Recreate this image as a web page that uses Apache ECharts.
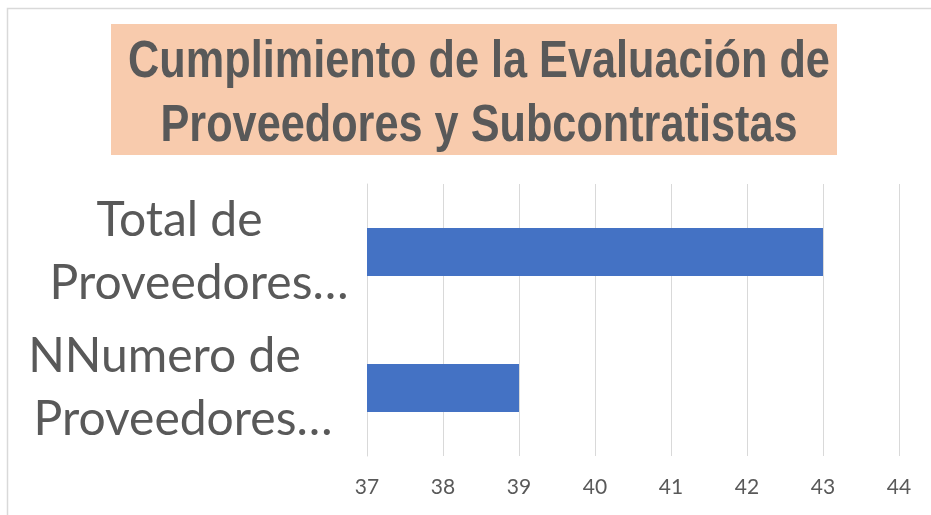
<!DOCTYPE html>
<html>
<head>
<meta charset="utf-8">
<script src="https://cdn.jsdelivr.net/npm/echarts@6/dist/echarts.min.js"></script>
<style>
html,body{margin:0;padding:0;background:#fff;}
#chart{width:931px;height:515px;}
</style>
</head>
<body>
<div id="chart"></div>
<script>
const titleText = 'Cumplimiento de la Evaluación de\nProveedores y Subcontratistas';
const categories = ['Total de\nProveedores…', 'NNumero de\nProveedores…'];
const values = [43, 39];
const xMin = 37, xMax = 44, xInterval = 1;

const chart = echarts.init(document.getElementById('chart'));
const txt = '#595959';
const labelFont = 'Lato, Carlito, Calibri, sans-serif';
const titleFont = '"Liberation Sans Narrow", "Arial Narrow", "Liberation Sans", Arial, sans-serif';

chart.setOption({
  animation: false,
  backgroundColor: '#fff',
  graphic: [
    { type: 'rect', z: -10, shape: { x: 7.5, y: 8.5, width: 940, height: 530 },
      style: { fill: 'none', stroke: '#D9D9D9', lineWidth: 1.5 } },
    { type: 'rect', z: -5, shape: { x: 111, y: 24, width: 726, height: 131 },
      style: { fill: '#F8CBAD' } },
    { type: 'text', z: 10, x: 479, y: 95, scaleX: 0.865, scaleY: 1.02,
      style: {
        text: titleText,
        x: 0, y: 0,
        textAlign: 'center', align: 'center',
        textVerticalAlign: 'middle', verticalAlign: 'middle',
        font: 'bold 50px ' + titleFont,
        fontFamily: titleFont, fontWeight: 'bold', fontSize: 50,
        lineHeight: 62,
        fill: txt
      } }
  ],
  grid: { left: 367, right: 32, top: 184, bottom: 59, containLabel: false },
  xAxis: {
    type: 'value',
    min: xMin, max: xMax, interval: xInterval,
    axisLine: { show: false },
    axisTick: { show: false },
    splitLine: { show: true, lineStyle: { color: '#D9D9D9', width: 1 } },
    axisLabel: { color: txt, fontFamily: labelFont, fontSize: 21, margin: 21 }
  },
  yAxis: {
    type: 'category',
    inverse: true,
    data: categories,
    axisLine: { show: true, lineStyle: { color: '#D9D9D9', width: 1 } },
    axisTick: { show: false },
    axisLabel: {
      margin: 168,
      align: 'center',
      color: txt,
      fontFamily: labelFont,
      fontSize: 48,
      lineHeight: 63,
      formatter: function (value, index) {
        const parts = value.split('\n');
        if (index === 0) return '{a|' + parts[0] + '}\n{b|' + parts[1] + '}';
        return '{c|' + parts[0] + '}\n{d|' + parts[1] + '}';
      },
      rich: {
        a: { fontFamily: labelFont, fontSize: 48, lineHeight: 63, color: txt, padding: [0, 39, 0, 0] },
        b: { fontFamily: labelFont, fontSize: 48, lineHeight: 63, color: txt },
        c: { fontFamily: labelFont, fontSize: 48, lineHeight: 63, color: txt, padding: [0, 69, 0, 0] },
        d: { fontFamily: labelFont, fontSize: 48, lineHeight: 63, color: txt, padding: [0, 32, 0, 0] }
      }
    }
  },
  series: [{
    type: 'bar',
    data: values,
    barWidth: 48,
    itemStyle: { color: '#4472C4' }
  }]
});
</script>
</body>
</html>
